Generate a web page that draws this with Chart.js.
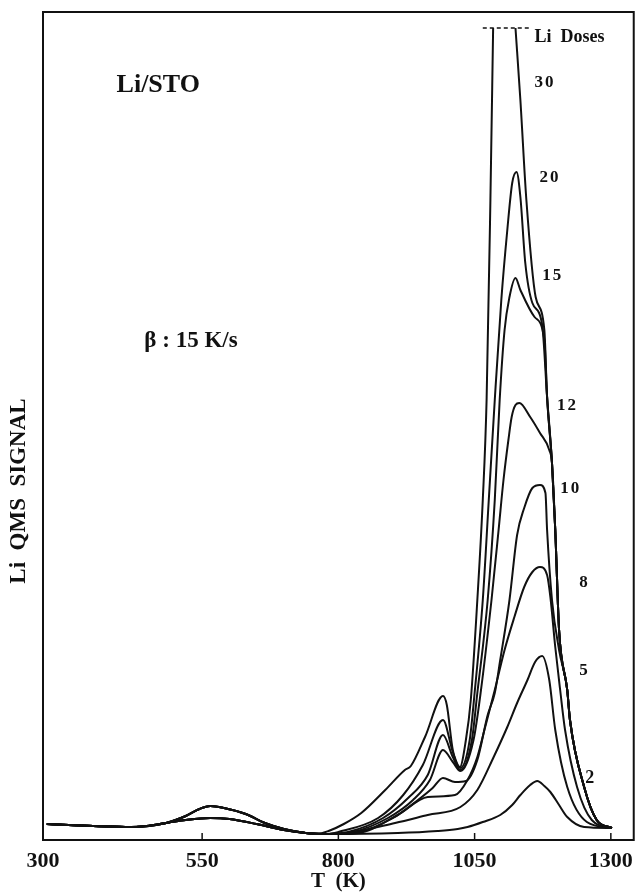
<!DOCTYPE html>
<html>
<head>
<meta charset="utf-8">
<script src="https://cdn.jsdelivr.net/npm/chart.js@4.4.1/dist/chart.umd.min.js"></script>
<style>
  html, body { margin: 0; padding: 0; background: #fff; }
</style>
</head>
<body>
<canvas id="tpd" width="641" height="896"></canvas>
<script>
// x tick labels of the temperature axis (K); "300" sits on the frame corner
const TICK_VALUES = [300, 550, 800, 1050, 1300];
const TICK_LABELS = ["300", "550", "800", "1050", "1300"];

const DOSES = [30, 20, 15, 12, 10, 8, 5, 2];

// shared low temperature part, [T (K), signal]
const BASE_HIGH = [[265, 16], [350, 14], [420, 13], [484, 17], [520, 24], [545, 31], [565, 34], [590, 32], [630, 26], [665, 17], [700, 11], [740, 7]];
const BASE_LOW = [[265, 16], [350, 14], [420, 13], [484, 17], [520, 20], [565, 22], [600, 21], [650, 16], [700, 10], [740, 7]];

const DOSE_30 = [[760, 6], [782, 9], [810, 16], [842, 27], [886, 50], [922, 70], [933, 74], [959, 103], [992, 144], [999, 135], [1010, 90], [1023, 73], [1034, 100], [1043, 140], [1055, 240], [1065, 340], [1072, 440], [1079, 640], [1084, 812], [1105, null], [1125, 812], [1134, 740], [1145, 640], [1162, 543], [1178, 510], [1183, 443], [1192, 377], [1198, 310], [1205, 210], [1220, 150], [1225, 120], [1251, 53], [1274, 20], [1302, 12]];
const DOSE_20 = [[780, 6], [800, 8], [873, 22], [919, 45], [955, 75], [992, 120], [1010, 88], [1024, 72], [1041, 100], [1050, 147], [1065, 240], [1076, 340], [1087, 440], [1099, 540], [1110, 610], [1119, 657], [1127, 668], [1134, 643], [1143, 577], [1156, 537], [1174, 515], [1183, 443], [1192, 377], [1198, 310], [1205, 210], [1220, 150], [1225, 120], [1251, 53], [1274, 20], [1302, 12]];
const DOSE_15 = [[780, 6], [818, 8], [882, 22], [928, 42], [964, 65], [992, 105], [1010, 83], [1024, 70], [1045, 100], [1055, 147], [1074, 240], [1087, 340], [1096, 440], [1105, 510], [1114, 543], [1125, 562], [1134, 550], [1160, 523], [1178, 500], [1183, 443], [1192, 377], [1198, 310], [1205, 210], [1220, 150], [1225, 120], [1251, 53], [1274, 20], [1302, 12]];
const DOSE_12 = [[780, 6], [827, 8], [891, 22], [937, 40], [968, 60], [992, 90], [1010, 78], [1024, 69], [1048, 100], [1061, 147], [1081, 240], [1094, 310], [1103, 360], [1112, 400], [1118, 423], [1125, 435], [1132, 437], [1152, 423], [1170, 407], [1187, 390], [1192, 377], [1198, 310], [1205, 210], [1220, 150], [1225, 120], [1251, 53], [1274, 20], [1302, 12]];
const DOSE_10 = [[780, 6], [836, 8], [900, 22], [946, 40], [973, 52], [992, 62], [1014, 58], [1034, 59], [1055, 80], [1074, 125], [1087, 147], [1097, 180], [1114, 240], [1128, 305], [1141, 332], [1156, 352], [1170, 355], [1180, 347], [1183, 310], [1192, 240], [1205, 190], [1220, 150], [1225, 120], [1251, 53], [1274, 20], [1302, 12]];
const DOSE_8 = [[780, 6], [836, 7], [909, 25], [964, 43], [1014, 45], [1037, 60], [1055, 83], [1068, 110], [1087, 150], [1105, 190], [1123, 223], [1141, 253], [1156, 268], [1170, 273], [1183, 265], [1189, 243], [1198, 193], [1207, 150], [1216, 110], [1238, 53], [1265, 20], [1302, 12]];
const DOSE_5 = [[780, 6], [818, 7], [904, 17], [964, 25], [1024, 33], [1055, 50], [1085, 83], [1110, 113], [1128, 137], [1147, 160], [1161, 178], [1174, 184], [1187, 160], [1198, 110], [1220, 53], [1256, 18], [1302, 12]];
const DOSE_2 = [[782, 6], [909, 7], [982, 9], [1019, 11], [1037, 13], [1065, 18], [1097, 25], [1119, 35], [1134, 45], [1152, 55], [1165, 59], [1178, 54], [1189, 48], [1205, 35], [1220, 23], [1251, 13], [1302, 12]];

// saturation cut of the 30 dose peak
const CUT_LINE = [[1065, 812], [1151, 812]];

const SERIES = [
    BASE_HIGH.concat(DOSE_30),
    BASE_HIGH.concat(DOSE_20),
    BASE_HIGH.concat(DOSE_15),
    BASE_HIGH.concat(DOSE_12),
    BASE_LOW.concat(DOSE_10),
    BASE_LOW.concat(DOSE_8),
    BASE_LOW.concat(DOSE_5),
    BASE_LOW.concat(DOSE_2),
];

const SERIF = "'Liberation Serif', 'DejaVu Serif', serif";
const INK = "#111";

const toPoints = (pairs) => pairs.map((p) => ({ x: p[0], y: p[1] }));

const datasets = SERIES.map((pairs, i) => ({
    label: "Li dose " + DOSES[i],
    data: toPoints(pairs),
    borderColor: INK,
    borderWidth: 2,
    pointRadius: 0,
    cubicInterpolationMode: "monotone",
    spanGaps: false,
    fill: false,
}));
datasets.push({
    label: "cut",
    data: toPoints(CUT_LINE),
    borderColor: INK,
    borderWidth: 1.5,
    borderDash: [4, 3],
    pointRadius: 0,
});

// texts written inside the frame, placed in data units
const NOTES = [
    { text: "Li/STO", x: 393, y: 748, size: 26 },
    { text: "\u03b2 : 15 K/s", x: 444, y: 493, size: 23 },
    { text: "Li  Doses", x: 1160, y: 798, size: 18 },
    { text: "30", x: 1160, y: 753, size: 17 },
    { text: "20", x: 1169, y: 658, size: 17 },
    { text: "15", x: 1174, y: 560, size: 17 },
    { text: "12", x: 1201, y: 430, size: 17 },
    { text: "10", x: 1207, y: 347, size: 17 },
    { text: "8", x: 1242, y: 253, size: 17 },
    { text: "5", x: 1242, y: 165, size: 17 },
    { text: "2", x: 1253, y: 57, size: 18 },
];

const framePlugin = {
    id: "frame",
    afterDraw(chart) {
        const { ctx, chartArea: a } = chart;
        const xs = chart.scales.x;
        const ys = chart.scales.y;
        ctx.save();
        ctx.strokeStyle = INK;
        ctx.lineWidth = 2;
        ctx.strokeRect(a.left, a.top, a.right - a.left, a.bottom - a.top);

        // inward tick marks
        ctx.lineWidth = 1.5;
        xs.ticks.forEach((t) => {
            if (t.value <= xs.min) return;
            const px = xs.getPixelForValue(t.value);
            ctx.beginPath();
            ctx.moveTo(px, a.bottom);
            ctx.lineTo(px, a.bottom - 7);
            ctx.stroke();
        });

        ctx.fillStyle = INK;
        ctx.textAlign = "left";
        ctx.textBaseline = "alphabetic";
        NOTES.forEach((n) => {
            ctx.font = "bold " + n.size + "px " + SERIF;
            ctx.letterSpacing = /^\d\d$/.test(n.text) ? "2px" : "0px";
            ctx.fillText(n.text, xs.getPixelForValue(n.x), ys.getPixelForValue(n.y));
        });
        ctx.letterSpacing = "0px";

        // y axis title
        ctx.translate(19, 491);
        ctx.rotate(-Math.PI / 2);
        ctx.textAlign = "center";
        ctx.textBaseline = "middle";
        ctx.font = "bold 23px " + SERIF;
        ctx.fillText("Li  QMS  SIGNAL", 0, 0);
        ctx.restore();
    },
};

new Chart(document.getElementById("tpd"), {
    type: "line",
    data: { datasets: datasets },
    options: {
        responsive: false,
        animation: false,
        layout: { padding: { left: 43, right: 4, top: 12, bottom: 0 } },
        plugins: { legend: { display: false }, tooltip: { enabled: false } },
        scales: {
            x: {
                type: "linear",
                min: 258,
                max: 1342,
                grid: { display: false, drawTicks: false },
                border: { display: false },
                afterBuildTicks: (scale) => {
                    // the first label is printed at the frame corner
                    scale.ticks = TICK_VALUES.map((v, i) => ({ value: i === 0 ? scale.min : v }));
                },
                afterFit: (scale) => {
                    scale.height = 56;
                },
                ticks: {
                    color: INK,
                    padding: 8,
                    maxRotation: 0,
                    font: { family: SERIF, size: 22, weight: "bold" },
                    callback: (value, index) => TICK_LABELS[index],
                },
                title: {
                    display: true,
                    text: "T  (K)",
                    color: INK,
                    padding: { top: 0, bottom: 2 },
                    font: { family: SERIF, size: 21, weight: "bold" },
                },
            },
            y: {
                display: false,
                min: 0,
                max: 828,
            },
        },
    },
    plugins: [framePlugin],
});
</script>
</body>
</html>
